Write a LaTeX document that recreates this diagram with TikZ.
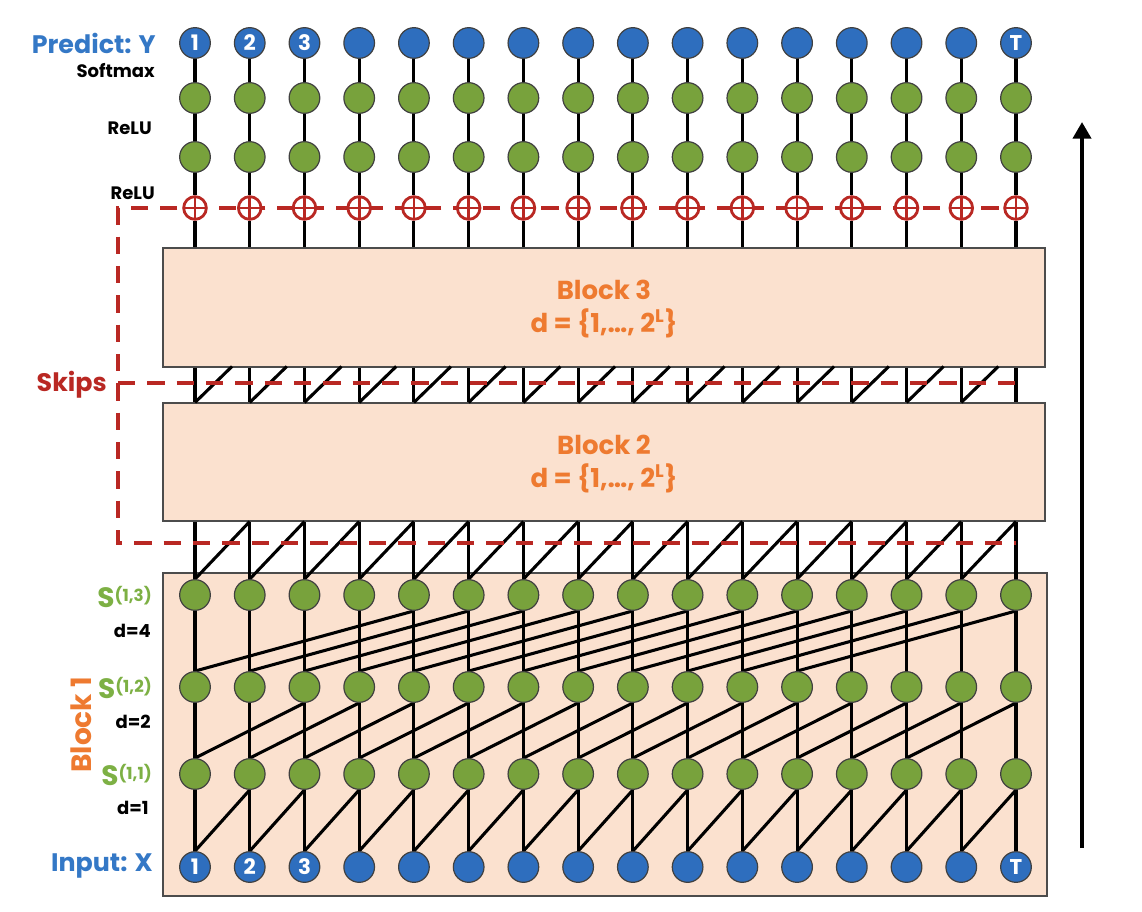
\documentclass[tikz,border=0pt]{standalone}
\usepackage{fontspec}
\setmainfont{Poppins}
\usetikzlibrary{arrows.meta}
\definecolor{nblue}{RGB}{46,110,190}
\definecolor{ngreen}{RGB}{120,162,60}
\definecolor{peach}{RGB}{251,225,207}
\definecolor{skipred}{RGB}{185,40,35}
\definecolor{borange}{RGB}{238,122,48}
\definecolor{tblue}{RGB}{52,120,198}
\definecolor{tgreen}{RGB}{125,176,68}
\pgfdeclarelayer{bg}
\pgfdeclarelayer{lines}
\pgfsetlayers{bg,lines,main}
\newcommand\collabel[1]{\ifnum#1=16 T\else\ifnum#1<4 #1\fi\fi}
\begin{document}
\begin{tikzpicture}[x=0.75pt,y=-0.75pt,
  bluenode/.style={circle, fill=nblue, draw=black!75, line width=0.9pt, minimum size=23pt, inner sep=0pt, text=white, font=\bfseries\fontsize{16}{16}\selectfont},
  greennode/.style={circle, fill=ngreen, draw=black!75, line width=0.9pt, minimum size=23pt, inner sep=0pt},
  plusnode/.style={circle, draw=skipred, fill=white, line width=2.1pt, minimum size=17pt, inner sep=0pt,
    path picture={\draw[skipred,line width=2.1pt] (path picture bounding box.north) -- (path picture bounding box.south) (path picture bounding box.west) -- (path picture bounding box.east);}},
  conn/.style={line width=2.3pt, black},
  skipline/.style={skipred, line width=2.3pt, dash pattern=on 13pt off 9pt},
  blockbox/.style={draw=black!70, line width=0.8pt, fill=peach, inner sep=0pt},
  blocktext/.style={text=borange, font=\bfseries\fontsize{19.5}{25}\selectfont, align=center},
  lbl/.style={anchor=east, inner sep=0pt, font=\bfseries\fontsize{13.5}{13.5}\selectfont},
  biglbl/.style={anchor=east, inner sep=0pt, font=\bfseries\fontsize{19}{19}\selectfont},
  slbl/.style={anchor=east, inner sep=0pt, text=tgreen, font=\bfseries\fontsize{21}{21}\selectfont}
]
\useasboundingbox (0,0) rectangle (1142,912);

% blocks
\begin{pgfonlayer}{bg}
\node[blockbox, minimum width=661.5pt, minimum height=89.25pt] (blk3) at (604,307.5) {};
\node[blockbox, minimum width=661.5pt, minimum height=88.5pt] (blk2) at (604,462) {};
\node[blockbox, minimum width=663pt, minimum height=242.25pt] (blk1) at (605,734.5) {};
\end{pgfonlayer}
\node[blocktext] (t3) at (604,309) {Block 3\\d = \{1,…, 2\textsuperscript{L}\}};
\node[blocktext] (t2) at (604,464) {Block 2\\d = \{1,…, 2\textsuperscript{L}\}};

% nodes
\foreach \i in {1,...,16}{
  \pgfmathsetmacro\xx{195+(\i-1)*54.733}
  \node[bluenode] (out\i) at (\xx,43) {\collabel{\i}};
  \node[greennode] (ha\i) at (\xx,98) {};
  \node[greennode] (hb\i) at (\xx,157) {};
  \node[plusnode] (p\i) at (\xx,208) {};
  \node[greennode] (sc\i) at (\xx,595) {};
  \node[greennode] (sb\i) at (\xx,687) {};
  \node[greennode] (sa\i) at (\xx,774) {};
  \node[bluenode] (in\i) at (\xx,867) {\collabel{\i}};
}

% connectors
\begin{pgfonlayer}{lines}
\foreach \i in {1,...,16}{
  \draw[conn] (out\i) -- (ha\i) -- (hb\i) -- (p\i) -- (p\i |- blk3.north);
  \draw[conn] (out\i |- blk3.south) -- (out\i |- blk2.north);
  \draw[conn] (sc\i.north) -- (sc\i |- blk2.south);
  \draw[conn] (in\i.north) -- (sa\i.south);
  \draw[conn] (sa\i.north) -- (sb\i.south);
  \draw[conn] (sb\i.north) -- (sc\i.south);
}
\foreach \i in {1,...,15}{
  \pgfmathtruncatemacro\j{\i+1}
  \draw[conn] (out\i |- blk2.north) -- ++(37,-36);
  \draw[conn] (sc\i.north) -- (sc\j |- blk2.south);
  \draw[conn] (in\i.north) -- (sa\j.south);
}
\foreach \i in {1,...,14}{
  \pgfmathtruncatemacro\j{\i+2}
  \draw[conn] (sa\i.north) -- (sb\j.south);
}
\foreach \i in {1,...,12}{
  \pgfmathtruncatemacro\j{\i+4}
  \draw[conn] (sb\i.north) -- (sc\j.south);
}
% skip connections
\coordinate (sk1) at (118,208);
\coordinate (sk2) at (118,383);
\coordinate (sk3) at (118,543);
\coordinate (ske0) at (1028,208);
\coordinate (ske1) at (1016,383);
\coordinate (ske2) at (1016,543);
\draw[skipline] (ske0) -- (sk1) -- (sk3) -- (ske2);
\draw[skipline] (sk2) -- (ske1);
\end{pgfonlayer}

% arrow
\coordinate (arrA) at (1082,848);
\coordinate (arrB) at (1082,122);
\draw[line width=3pt, -{Triangle[length=12.5pt,width=13.5pt]}] (arrA) -- (arrB);

% labels
\node[biglbl, text=tblue] (lpred) at (156,43) {Predict: Y};
\node[lbl] (lsoft) at (155,71) {Softmax};
\node[lbl] (lrelu1) at (152,128) {ReLU};
\node[lbl] (lrelu2) at (155,193) {ReLU};
\node[biglbl, text=skipred] (lskip) at (107,385) {Skips};
\node[slbl] (ls3) at (152,597) {S\raisebox{5pt}{\fontsize{12.5}{12.5}\selectfont(1,3)}};
\node[lbl] (ld4) at (151,631) {d=4};
\node[slbl] (ls2) at (152,688) {S\raisebox{5pt}{\fontsize{12.5}{12.5}\selectfont(1,2)}};
\node[lbl] (ld2) at (151,722) {d=2};
\node[slbl] (ls1) at (152,775) {S\raisebox{5pt}{\fontsize{12.5}{12.5}\selectfont(1,1)}};
\node[lbl] (ld1) at (149,808) {d=1};
\node[biglbl, text=tblue] (linput) at (153,866) {Input: X};
\node[rotate=90, inner sep=0pt, text=borange, font=\bfseries\fontsize{21}{21}\selectfont] (lb1) at (81,725) {Block 1};
\end{tikzpicture}
\end{document}
